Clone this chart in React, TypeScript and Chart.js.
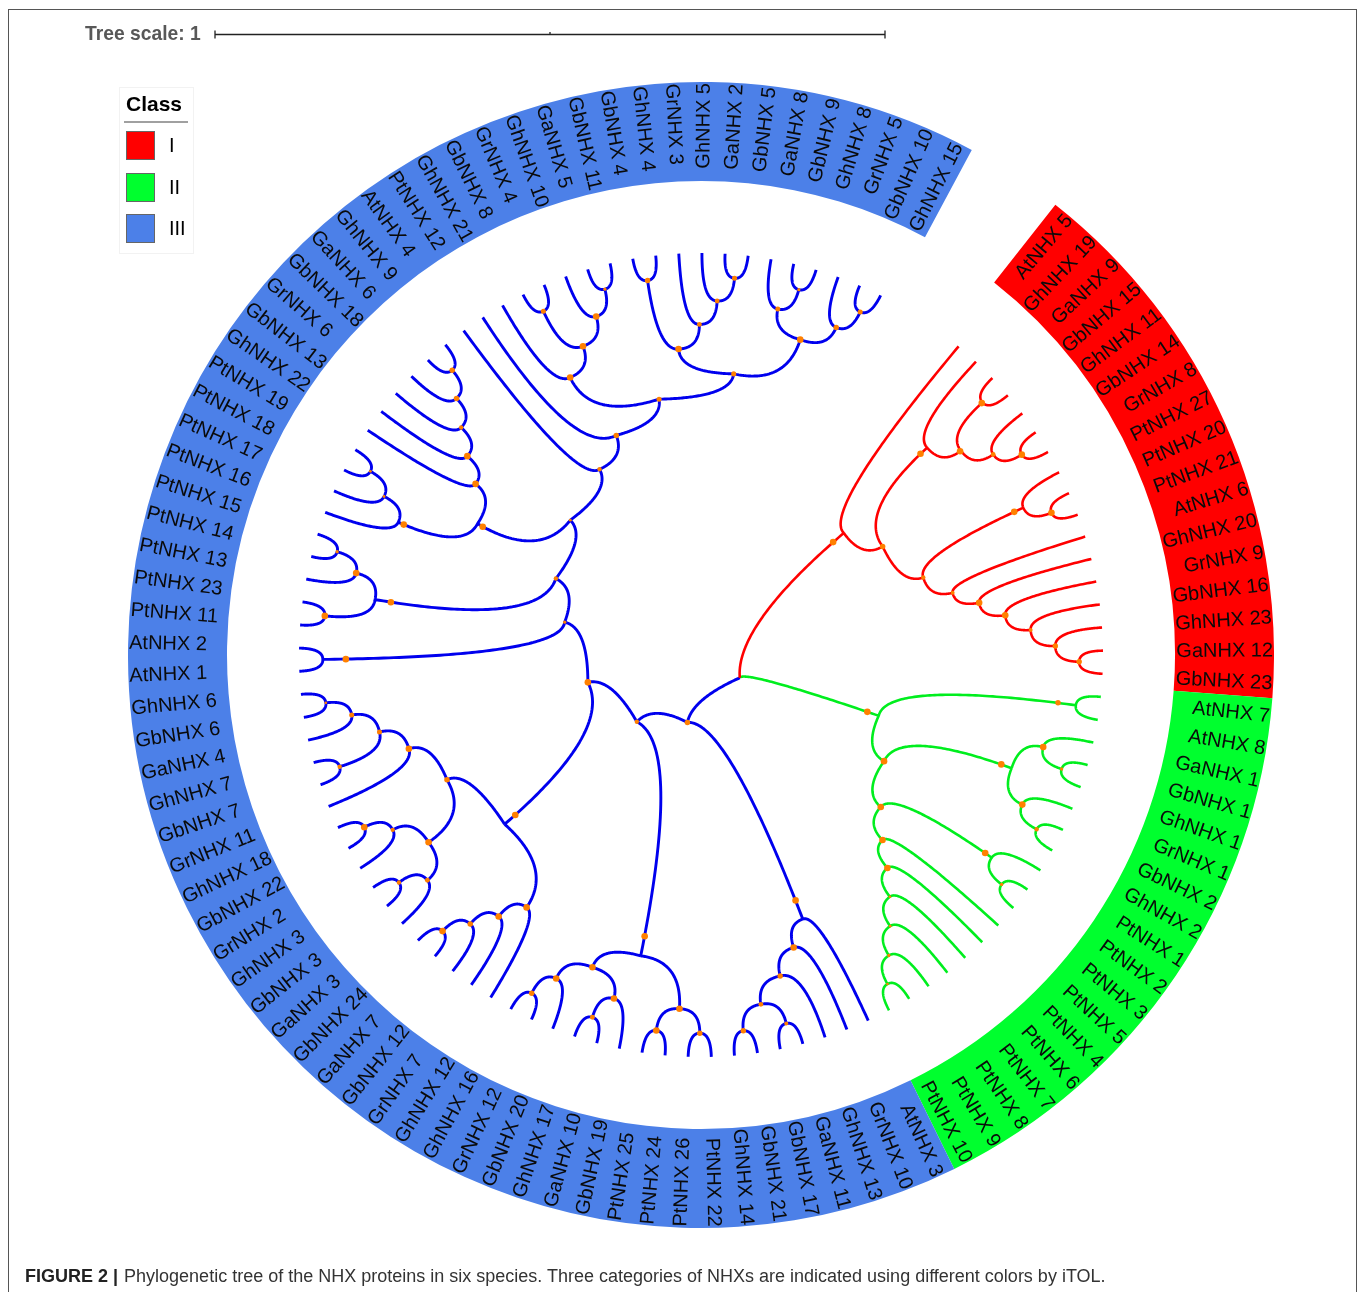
import React, { useEffect, useRef } from "react";
import { Chart, registerables } from "chart.js";

Chart.register(...registerables);

// ---- data ----
const redLeaves = ["AtNHX 5","GhNHX 19","GaNHX 9","GbNHX 15","GhNHX 11","GbNHX 14","GrNHX 8","PtNHX 27","PtNHX 20","PtNHX 21","AtNHX 6","GhNHX 20","GrNHX 9","GbNHX 16","GhNHX 23","GaNHX 12","GbNHX 23"];
const greenLeaves = ["AtNHX 7","AtNHX 8","GaNHX 1","GbNHX 1","GhNHX 1","GrNHX 1","GbNHX 2","GhNHX 2","PtNHX 1","PtNHX 2","PtNHX 3","PtNHX 5","PtNHX 4","PtNHX 6","PtNHX 7","PtNHX 8","PtNHX 9","PtNHX 10"];
const blueLeaves = ["AtNHX 3","GrNHX 10","GhNHX 13","GaNHX 11","GbNHX 17","GbNHX 21","GhNHX 14","PtNHX 22","PtNHX 26","PtNHX 24","PtNHX 25","GbNHX 19","GaNHX 10","GhNHX 17","GbNHX 20","GrNHX 12","GhNHX 16","GhNHX 12","GrNHX 7","GbNHX 12","GaNHX 7","GbNHX 24","GaNHX 3","GbNHX 3","GhNHX 3","GrNHX 2","GbNHX 22","GhNHX 18","GrNHX 11","GbNHX 7","GhNHX 7","GaNHX 4","GbNHX 6","GhNHX 6","AtNHX 1","AtNHX 2","PtNHX 11","PtNHX 23","PtNHX 13","PtNHX 14","PtNHX 15","PtNHX 16","PtNHX 17","PtNHX 18","PtNHX 19","GhNHX 22","GbNHX 13","GrNHX 6","GbNHX 18","GaNHX 6","GhNHX 9","AtNHX 4","PtNHX 12","GhNHX 21","GbNHX 8","GrNHX 4","GhNHX 10","GaNHX 5","GbNHX 11","GbNHX 4","GhNHX 4","GrNHX 3","GhNHX 5","GaNHX 2","GbNHX 5","GaNHX 8","GbNHX 9","GhNHX 8","GrNHX 5","GbNHX 10","GhNHX 15"];
const classNames = ["I", "II", "III"];

// Clades: [support mark offset, support mark size, ...children]; a number is a leaf index.
const redClade: any[] = [14,3, 0,
  [0,2.5,
    [9,3, 1, [1,3, [1,3,2,3], [0,2.2,4,[0,3,5,6]]]],
    [0,2, [10,3,7,[0,3,8,9]],
      [0,1.8,10,[0,3,11,[0,3,12,[0,1.8,13,[0,2.5,14,[0,2.5,15,16]]]]]]]]];
const greenClade: any[] = [12,3,
  [18,2.5,17,18],
  [0,3,
    [11,3, [0,3,19,[0,1.5,20,21]], [0,3,22,[0,2,23,24]]],
    [0,3,
      [8,3,25,[0,1.5,26,27]],
      [0,3,28,[0,3,29,[0,1.2,30,[0,1.2,31,[0,1.5,32,[0,1.2,33,34]]]]]]]]];
const blueLower: any[] = [20,3, 35, [0,3,36,[0,2.5,37,[0,2.2,[0,1.8,38,39],[0,2.5,40,41]]]]];
const blueBottom: any[] = [20,3,
  [0,3,[0,2.5,42,43],[0,3,44,45]],
  [0,3,[0,3,46,[0,2.2,47,48]],[0,3,49,[0,2.5,50,51]]]];
const blueLeft: any[] = [14,3,
  [0,3,52,[0,3,53,[0,2.5,54,[0,3,55,56]]]],
  [0,2.5,
    [0,3,[0,2.2,57,[0,2,58,59]],[0,2,60,[0,3,61,62]]],
    [0,3,63,[0,2.3,[0,2,64,65],[0,2.3,66,[0,1.2,67,68]]]]]];
const blueUpperLeft: any[] = [6,3,
  [6,3,76,[0,1.3,77,[0,1.3,78,79]]],
  [0,3,80,[0,3,81,[0,2,82,[0,2.5,83,[0,2.5,84,85]]]]]];
const blueTop: any[] = [0,2,86,[0,2.5,87,[0,2.3,
  [0,3,88,[0,3,[0,2.3,89,90],[0,3,91,[0,1.5,92,93]]]],
  [0,2.3,
    [0,3,[0,2.5,94,95],[0,2.2,96,[0,2.2,97,[0,2.3,98,99]]]],
    [0,3,[0,2.3,100,[0,1.5,101,102]],[0,2.5,103,[0,2.3,104,105]]]]]]];
const blueUpper: any[] = [0,1.5,
  [23,3,69,70],
  [0,2,
    [16,3,[0,3,71,72],[0,3,73,[0,1.5,74,75]]],
    [0,1.3,blueUpperLeft,blueTop]]];
const blueClade: any[] = [0,2.5, blueLower, [0,2, blueBottom, [0,3, blueLeft, blueUpper]]];

// ---- styles and layout ----
const RING_COLORS = ["#ff0000", "#00ff2e", "#4c80e8"];
const TREE_COLORS = ["#ff0000", "#00ee1e", "#0000ee"];
const DOT_COLOR = "#ff8000";
const DOT_SCALE = 1.1;
const CX = 701, CY = 655, R_OUT = 573, R_IN = 474;
const W = 1358, H = 1292;
const START_DEG = 38.2, SPAN_DEG = 350, LABEL_SHIFT_DEG = 0.2;
const LEAF_R = 402, LEVEL_R = 23.8;

const leaves = [...redLeaves, ...greenLeaves, ...blueLeaves];
const STEP = SPAN_DEG / leaves.length;
const leafAngle = (i: number) => START_DEG + (i + 0.5) * STEP;
const radiusAt = (h: number) => LEAF_R - LEVEL_R * h;

type Laid = { ang: number; h: number; kids: Laid[]; back: number; size: number };
function lay(n: any): Laid {
  if (typeof n === "number") return { ang: leafAngle(n), h: 0, kids: [], back: 0, size: 0 };
  const kids = n.slice(2).map(lay);
  return {
    ang: (kids[0].ang + kids[kids.length - 1].ang) / 2,
    h: Math.max(...kids.map((k: Laid) => k.h)) + 1,
    kids,
    back: n[0],
    size: n[1],
  };
}
const toXY = (r: number, deg: number) => {
  const a = (deg * Math.PI) / 180;
  return { x: r * Math.sin(a), y: r * Math.cos(a) };
};
function branch(p: Laid, c: Laid, out: any[]) {
  const rp = radiusAt(p.h), rc = radiusAt(c.h);
  const A = toXY(rp, p.ang), B = toXY(rp, c.ang), E = toXY(rc, c.ang);
  const N = 40;
  for (let i = 0; i <= N; i++) {
    const t = i / N, u = 1 - t;
    out.push({
      x: u * u * A.x + 2 * u * t * B.x + t * t * E.x,
      y: u * u * A.y + 2 * u * t * B.y + t * t * E.y,
    });
  }
  out.push({ x: NaN, y: NaN });
}
function walk(n: Laid, line: any[], dots: any[], sizes: number[]) {
  if (n.size > 0) {
    dots.push(toXY(radiusAt(n.h) - n.back, n.ang));
    sizes.push(n.size * DOT_SCALE);
  }
  for (const k of n.kids) {
    branch(n, k, line);
    walk(k, line, dots, sizes);
  }
}

const labelPlugin = {
  id: "leafLabels",
  afterDatasetsDraw(chart: any) {
    const { ctx, chartArea } = chart;
    const cx = (chartArea.left + chartArea.right) / 2;
    const cy = (chartArea.top + chartArea.bottom) / 2;
    ctx.save();
    ctx.font = "20px 'Liberation Sans'";
    ctx.fillStyle = "#0a0a0a";
    ctx.textBaseline = "middle";
    leaves.forEach((name, i) => {
      const d = leafAngle(i) % 360;
      const shown = d + LABEL_SHIFT_DEG;
      ctx.save();
      ctx.translate(cx, cy);
      if (d < 180) {
        ctx.rotate(((shown - 90) * Math.PI) / 180);
        ctx.textAlign = "right";
        ctx.fillText(name, R_OUT - 1, 0);
      } else {
        ctx.rotate(((shown + 90) * Math.PI) / 180);
        ctx.textAlign = "left";
        ctx.fillText(name, -(R_OUT - 1), 0);
      }
      ctx.restore();
    });
    ctx.restore();
  },
};

const abs = (left: number, top: number, extra: any = {}) => ({ position: "absolute", left, top, ...extra });
const SANS = "'Liberation Sans', Arial, sans-serif";

export default function App() {
  const ringRef = useRef<HTMLCanvasElement>(null);
  const treeRef = useRef<HTMLCanvasElement>(null);

  useEffect(() => {
    const ring = new Chart(ringRef.current as any, {
      type: "doughnut",
      data: {
        labels: ["I", "II", "III"],
        datasets: [{
          data: [redLeaves.length, greenLeaves.length, blueLeaves.length],
          backgroundColor: RING_COLORS,
          borderWidth: 0,
        }],
      },
      options: {
        animation: false,
        responsive: false,
        devicePixelRatio: 1,
        rotation: START_DEG,
        circumference: SPAN_DEG,
        cutout: `${(R_IN / R_OUT) * 100}%`,
        layout: { padding: 0 },
        events: [],
        plugins: { legend: { display: false }, tooltip: { enabled: false } },
      } as any,
      plugins: [labelPlugin],
    });

    const root = lay([0, 0, redClade, greenClade, blueClade]);
    const lines: any[][] = [[], [], []];
    const dots: any[] = [];
    const sizes: number[] = [];
    root.kids.forEach((k, i) => {
      branch(root, k, lines[i]);
      walk(k, lines[i], dots, sizes);
    });

    const barY = CY - 34.5;
    const barL = 215 - CX, barR = 885 - CX, barM = 550 - CX;
    const bar = [
      { x: barL, y: barY }, { x: barR, y: barY }, { x: NaN, y: NaN },
      { x: barL, y: barY + 4 }, { x: barL, y: barY - 4 }, { x: NaN, y: NaN },
      { x: barR, y: barY + 4 }, { x: barR, y: barY - 4 }, { x: NaN, y: NaN },
      { x: barM, y: barY + 2.5 }, { x: barM, y: barY }, { x: NaN, y: NaN },
    ];

    const lineSet = (data: any[], color: string, width: number) => ({
      type: "scatter", data, showLine: true, borderColor: color, backgroundColor: color,
      borderWidth: width, pointRadius: 0, tension: 0.001, spanGaps: false,
      borderJoinStyle: "round", borderCapStyle: "butt",
    });

    const tree = new Chart(treeRef.current as any, {
      type: "scatter",
      data: {
        datasets: [
          { data: dots, showLine: false, pointRadius: sizes, pointBackgroundColor: DOT_COLOR, pointBorderWidth: 0 },
          lineSet(lines[0], TREE_COLORS[0], 2.6),
          lineSet(lines[1], TREE_COLORS[1], 2.6),
          lineSet(lines[2], TREE_COLORS[2], 2.9),
          lineSet(bar, "#222222", 1.3),
        ],
      } as any,
      options: {
        animation: false,
        responsive: false,
        devicePixelRatio: 1,
        events: [],
        layout: { padding: 0, autoPadding: false },
        plugins: { legend: { display: false }, tooltip: { enabled: false } },
        scales: {
          x: { type: "linear", display: false, min: -CX, max: W - CX },
          y: { type: "linear", display: false, min: CY - H, max: CY },
        },
      } as any,
    });
    return () => { ring.destroy(); tree.destroy(); };
  }, []);

  return (
    <div style={abs(0, 0, { width: W, height: H, background: "#fff", overflow: "hidden", fontFamily: SANS }) as any}>
      <div style={abs(8, 9, { width: 1347, height: 1300, border: "1px solid #555" }) as any} />
      <canvas ref={ringRef} width={R_OUT * 2} height={R_OUT * 2} style={abs(CX - R_OUT, CY - R_OUT) as any} />
      <canvas ref={treeRef} width={W} height={H} style={abs(0, 0) as any} />

      <div style={abs(85, 23, { font: `bold 19.3px ${SANS}`, color: "#585858", lineHeight: "22px", whiteSpace: "nowrap" }) as any}>Tree scale: 1</div>

      <div style={abs(119, 87, { width: 73, height: 165, border: "1px solid #f2f2f2" }) as any} />
      <div style={abs(126, 91, { font: `bold 21px ${SANS}`, color: "#000", lineHeight: "25px" }) as any}>Class</div>
      <div style={abs(124, 121, { width: 64, height: 2, background: "#a0a0a0" }) as any} />
      {classNames.map((c, i) => (
        <React.Fragment key={c}>
          <div style={abs(126, 131 + i * 41.5, { width: 27, height: 27, background: RING_COLORS[i], border: "1px solid #666" }) as any} />
          <div style={abs(169, 134 + i * 41.5, { font: `20px ${SANS}`, color: "#000", lineHeight: "23px" }) as any}>{c}</div>
        </React.Fragment>
      ))}

      <div style={abs(25, 1265, { font: `18px ${SANS}`, color: "#333", lineHeight: "22px", whiteSpace: "nowrap" }) as any}>
        <b style={{ color: "#222", marginRight: 1 }}>FIGURE 2 | </b>Phylogenetic tree of the NHX proteins in six species. Three categories of NHXs are indicated using different colors by iTOL.
      </div>
    </div>
  );
}
